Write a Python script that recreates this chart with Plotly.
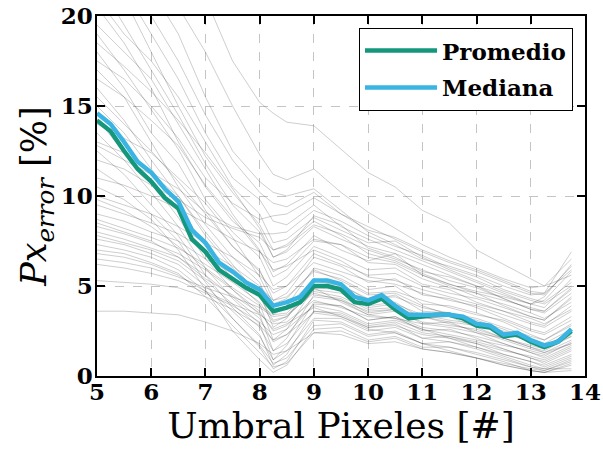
import plotly.graph_objects as go

# Umbral values for the summary curves (0.25 steps)
umbral = [5.0, 5.25, 5.5, 5.75, 6.0, 6.25, 6.5, 6.75, 7.0, 7.25, 7.5, 7.75,
          8.0, 8.25, 8.5, 8.75, 9.0, 9.25, 9.5, 9.75, 10.0, 10.25, 10.5, 10.75,
          11.0, 11.25, 11.5, 11.75, 12.0, 12.25, 12.5, 12.75, 13.0, 13.25, 13.5, 13.75]

promedio = [14.2, 13.6, 12.5, 11.5, 10.8, 9.9, 9.3, 7.6, 6.9, 5.9, 5.4, 4.9,
            4.5, 3.6, 3.8, 4.1, 5.0, 5.0, 4.8, 4.1, 4.0, 4.3, 3.7, 3.2,
            3.3, 3.4, 3.4, 3.2, 2.8, 2.7, 2.2, 2.3, 1.9, 1.6, 1.9, 2.5]

mediana = [14.6, 14.0, 13.0, 11.9, 11.3, 10.4, 9.7, 8.1, 7.4, 6.3, 5.8, 5.2,
           4.8, 3.9, 4.1, 4.4, 5.3, 5.3, 5.1, 4.4, 4.2, 4.5, 3.9, 3.4,
           3.4, 3.4, 3.4, 3.3, 2.9, 2.8, 2.3, 2.4, 2.0, 1.7, 1.9, 2.6]

# Umbral values sampled for the individual error curves
umbral_curvas = [5, 5.5, 6, 6.5, 7, 7.5, 8, 8.25, 8.5, 9, 9.5, 10, 10.5, 11,
                 11.5, 12, 12.5, 13, 13.25, 13.75]

curvas = [
    [34, 31, 28, 25, 21, 17.5, 15.2, 14.6, 14.1, 13.9, 12.6, 11.3, 10.5, 9.2, 8.5, 7.0, 6.2, 5.4, 5.0, 5.6],
    [27, 24, 21.5, 19, 15.5, 12.5, 10.8, 10.2, 10.0, 10.4, 9.2, 8.0, 7.3, 6.5, 6.1, 5.6, 5.0, 4.5, 4.6, 6.9],
    [24, 21.5, 19, 16.5, 13.5, 11.0, 9.8, 8.6, 8.4, 9.5, 8.3, 7.6, 7.0, 6.4, 5.8, 5.2, 4.6, 4.0, 4.2, 5.8],
    [22, 19.5, 17, 14.5, 11.8, 9.5, 8.0, 6.6, 6.9, 8.3, 7.6, 7.0, 6.5, 5.9, 5.3, 4.9, 4.3, 3.7, 3.5, 4.6],
    [20.5, 18.5, 16, 13, 10.5, 8.6, 7.4, 5.8, 6.2, 7.8, 7.0, 6.4, 6.8, 5.6, 5.0, 4.4, 4.0, 3.5, 3.2, 4.1],
    [19, 17, 14.8, 12.6, 9.8, 8.0, 6.6, 5.0, 5.5, 7.2, 6.6, 5.9, 6.0, 5.1, 4.8, 4.1, 3.6, 3.0, 2.8, 3.9],
    [18, 16, 13.5, 11.8, 9.2, 7.2, 5.9, 4.2, 4.6, 6.6, 6.1, 5.2, 5.4, 4.5, 4.3, 3.8, 3.2, 2.6, 2.4, 3.3],
    [17, 15.5, 13, 10.5, 8.4, 6.6, 5.2, 3.4, 3.9, 6.0, 5.6, 4.8, 5.0, 4.0, 3.9, 3.5, 3.0, 2.3, 2.0, 2.8],
    [16, 14.2, 12, 10, 7.8, 6.0, 4.6, 2.7, 3.2, 5.4, 5.1, 4.2, 4.5, 3.6, 3.5, 3.1, 2.6, 2.0, 1.6, 2.5],
    [15, 13.5, 11.5, 9.5, 7.2, 5.4, 4.0, 2.0, 2.6, 4.9, 4.8, 3.9, 4.1, 3.2, 3.3, 2.7, 2.1, 1.6, 1.3, 2.0],
    [14.3, 12.4, 10.8, 8.8, 6.5, 4.8, 3.4, 1.4, 2.1, 4.5, 4.3, 3.5, 3.7, 2.9, 3.0, 2.4, 1.8, 1.3, 1.0, 1.7],
    [13.5, 12.0, 10.2, 8.3, 6.0, 4.3, 2.9, 0.9, 1.7, 4.1, 3.9, 3.1, 3.3, 2.5, 2.6, 2.1, 1.5, 1.0, 0.7, 1.4],
    [12.5, 11.2, 9.5, 7.8, 5.6, 3.8, 2.3, 0.6, 1.2, 3.6, 3.4, 2.7, 2.9, 2.1, 2.2, 1.8, 1.2, 0.8, 0.5, 1.1],
    [11.5, 10.5, 9.0, 7.5, 5.2, 3.2, 1.6, 0.4, 0.8, 3.1, 3.0, 2.3, 2.5, 1.8, 1.9, 1.5, 1.0, 0.5, 0.3, 0.8],
    [10.5, 9.8, 8.7, 7.0, 4.8, 2.5, 0.9, 0.2, 0.6, 2.6, 2.7, 2.0, 2.2, 1.6, 1.6, 1.2, 0.8, 0.3, 0.2, 0.6],
    [10.0, 9.5, 9.0, 8.3, 7.4, 6.6, 5.6, 4.8, 5.0, 6.3, 5.8, 5.3, 5.1, 4.6, 4.2, 3.9, 3.4, 2.9, 2.7, 3.6],
    [9.5, 9.0, 8.5, 7.9, 7.0, 6.1, 5.0, 4.2, 4.4, 5.8, 5.4, 4.6, 4.7, 4.2, 3.8, 3.4, 3.1, 2.5, 2.3, 3.1],
    [9.0, 8.6, 8.0, 7.5, 6.5, 5.7, 4.6, 3.6, 3.9, 5.3, 5.0, 4.3, 4.4, 3.8, 3.5, 3.2, 2.7, 2.2, 2.0, 2.9],
    [8.7, 8.2, 7.7, 7.1, 6.2, 5.2, 4.1, 3.0, 3.3, 4.8, 4.6, 3.8, 4.0, 3.4, 3.1, 2.9, 2.4, 1.9, 1.7, 2.4],
    [8.3, 7.9, 7.4, 6.8, 5.9, 4.8, 3.6, 2.5, 2.8, 4.4, 4.2, 3.4, 3.6, 3.0, 2.8, 2.6, 2.1, 1.6, 1.4, 2.2],
    [8.0, 7.6, 7.1, 6.6, 5.6, 4.4, 3.2, 1.9, 2.3, 4.0, 3.9, 3.1, 3.3, 2.7, 2.5, 2.2, 1.8, 1.3, 1.1, 1.9],
    [7.8, 7.4, 7.0, 6.4, 5.3, 4.0, 2.7, 1.4, 1.8, 3.6, 3.5, 2.8, 3.0, 2.4, 2.2, 1.9, 1.5, 1.0, 0.8, 1.5],
    [7.6, 7.3, 6.8, 6.2, 5.0, 3.6, 2.2, 0.9, 1.4, 3.2, 3.2, 2.5, 2.7, 2.1, 1.9, 1.6, 1.2, 0.8, 0.6, 1.2],
    [7.3, 7.0, 6.6, 5.9, 4.7, 3.2, 1.7, 0.7, 1.0, 2.8, 2.9, 2.2, 2.4, 1.8, 1.6, 1.3, 0.9, 0.5, 0.4, 1.0],
    [7.0, 6.8, 6.3, 5.7, 4.4, 2.8, 1.3, 0.5, 0.7, 2.4, 2.5, 1.9, 2.1, 1.5, 1.3, 1.0, 0.6, 0.3, 0.2, 0.7],
    [6.8, 6.6, 6.2, 5.6, 4.7, 4.0, 3.4, 2.9, 3.0, 4.2, 3.8, 3.3, 3.2, 2.9, 2.7, 2.4, 2.1, 1.7, 1.5, 2.3],
    [6.5, 6.3, 6.0, 5.5, 4.9, 4.4, 3.8, 3.3, 3.4, 4.6, 4.2, 3.6, 3.7, 3.3, 3.0, 2.8, 2.5, 2.0, 1.8, 2.6],
    [6.2, 6.0, 5.7, 5.3, 4.6, 3.9, 3.0, 2.3, 2.6, 3.9, 3.6, 2.9, 3.1, 2.6, 2.3, 2.0, 1.7, 1.4, 1.2, 1.8],
    [5.3, 5.2, 5.1, 4.9, 4.4, 3.7, 2.8, 2.0, 2.3, 3.5, 3.3, 2.7, 2.8, 2.3, 2.1, 1.8, 1.4, 1.1, 0.9, 1.6],
    [3.6, 3.6, 3.5, 3.4, 3.0, 2.5, 1.8, 1.2, 1.4, 2.4, 2.3, 1.8, 1.9, 1.5, 1.3, 1.0, 0.7, 0.4, 0.3, 0.9],
    [12.0, 11.5, 10.6, 9.8, 8.8, 8.2, 7.7, 7.0, 7.2, 8.4, 7.9, 7.2, 6.8, 6.2, 5.6, 5.0, 4.3, 3.7, 3.6, 4.8],
    [11.0, 10.6, 10.0, 9.3, 8.5, 7.6, 6.9, 6.3, 6.5, 7.6, 7.3, 6.6, 6.3, 5.6, 5.1, 4.6, 3.9, 3.3, 3.1, 4.3],
    [13.0, 12.4, 11.3, 10.4, 9.1, 8.3, 7.9, 7.9, 8.0, 9.2, 8.6, 7.8, 7.2, 6.7, 6.0, 5.5, 4.8, 4.3, 4.1, 5.2],
    [17.5, 16.5, 15.0, 13.2, 11.0, 9.6, 8.7, 8.9, 9.0, 9.9, 9.0, 8.3, 7.6, 6.9, 6.3, 5.8, 5.2, 4.6, 4.5, 6.1],
    [21, 19, 17.5, 15.5, 13.0, 10.5, 9.0, 7.4, 7.6, 8.8, 8.1, 7.4, 7.5, 6.6, 5.9, 5.3, 4.7, 4.2, 4.0, 5.0],
    [9.8, 9.2, 8.3, 7.2, 6.0, 4.9, 3.9, 3.4, 3.5, 4.9, 4.1, 3.4, 3.2, 2.6, 2.1, 1.6, 1.1, 0.6, 0.4, 0.4],
    [8.5, 8.0, 7.5, 6.6, 5.4, 4.5, 3.5, 2.6, 2.9, 3.8, 3.3, 2.6, 2.4, 1.8, 1.4, 1.0, 0.6, 0.3, 0.2, 0.3],
    [15.5, 14.0, 12.5, 10.8, 9.0, 7.2, 5.8, 4.6, 5.0, 6.8, 6.2, 5.6, 5.7, 5.0, 4.6, 4.3, 3.8, 3.3, 3.1, 4.4],
    [19.5, 18, 16.5, 14, 11.5, 9.0, 7.0, 5.5, 5.9, 7.5, 7.3, 6.3, 6.2, 5.4, 4.9, 4.6, 4.2, 3.8, 3.6, 4.9],
    [23, 21, 18, 15, 12.2, 10.2, 8.4, 7.0, 7.3, 8.6, 7.8, 6.8, 6.4, 5.7, 5.1, 4.7, 4.4, 4.0, 4.4, 6.2],
    [25, 22.5, 20, 17.5, 14.5, 12.0, 10.2, 9.6, 9.4, 10.2, 9.0, 8.1, 7.7, 7.0, 6.4, 5.9, 5.3, 4.7, 4.6, 5.9],
    [18.5, 17.2, 15.8, 14.2, 12.4, 10.4, 8.2, 6.6, 7.0, 8.9, 8.4, 7.1, 6.6, 5.8, 5.5, 5.0, 4.5, 4.0, 3.8, 5.4],
    [16.5, 15.5, 14.2, 12.8, 10.6, 8.8, 6.9, 5.9, 6.1, 7.0, 6.4, 5.5, 5.3, 4.8, 4.4, 4.0, 3.6, 3.2, 2.9, 3.7],
    [14.0, 13.2, 12.4, 11.0, 9.6, 7.7, 5.5, 4.0, 4.3, 5.9, 5.3, 4.5, 4.6, 3.9, 3.4, 2.9, 2.4, 1.9, 1.6, 2.2],
    [12.8, 12.0, 11.2, 10.0, 8.0, 6.2, 4.4, 3.1, 3.3, 4.7, 4.4, 3.7, 3.8, 3.3, 2.9, 2.5, 2.0, 1.5, 1.3, 1.8],
    [28, 26, 23, 20.5, 18, 15, 12.3, 11.2, 10.9, 11.5, 10.2, 9.1, 8.2, 7.3, 6.6, 6.0, 5.4, 4.9, 5.0, 6.5],
]

x_ticks = [5, 6, 7, 8, 9, 10, 11, 12, 13, 14]
y_ticks = [0, 5, 10, 15, 20]

SERIF = "DejaVu Serif"

fig = go.Figure()

for valores in curvas:
    fig.add_trace(go.Scatter(
        x=umbral_curvas, y=valores, mode="lines",
        line=dict(color="rgba(30,30,30,0.28)", width=0.8),
        showlegend=False, hoverinfo="skip",
    ))

fig.add_trace(go.Scatter(
    x=umbral, y=promedio, mode="lines", name="Promedio",
    line=dict(color="#15977c", width=4.5), legendgroup="a",
))
fig.add_trace(go.Scatter(
    x=umbral, y=mediana, mode="lines", name="Mediana",
    line=dict(color="#3ab4e2", width=4.5), legendgroup="b",
))

axis_common = dict(
    showline=True, linecolor="black", linewidth=1.5, mirror="ticks",
    ticks="inside", ticklen=8, tickwidth=2, tickcolor="black",
    showgrid=True, gridcolor="#c4c4c4", griddash="dash", gridwidth=1,
    zeroline=False, automargin=False,
    tickfont=dict(family=SERIF, size=23, color="black", weight="bold"),
)

fig.update_xaxes(
    range=[5, 14], tickvals=x_ticks, ticktext=[str(v) for v in x_ticks],
    ticklabelstandoff=-5,
    title=dict(text="Umbral Pixeles [#]", font=dict(family=SERIF, size=36, color="black"),
               standoff=0),
    **axis_common,
)
fig.update_yaxes(
    range=[0, 20], tickvals=y_ticks, ticktext=[str(v) for v in y_ticks],
    ticklabelstandoff=-2,
    title=dict(text="<i>Px</i><sub><i>error</i></sub> [%]",
               font=dict(family=SERIF, size=35, color="black"), standoff=3),
    **axis_common,
)

fig.update_layout(
    width=603, height=449,
    margin=dict(l=97, r=18, t=16, b=73),
    paper_bgcolor="white", plot_bgcolor="white",
    showlegend=True,
    legend=dict(
        x=0.975, y=0.967, xanchor="right", yanchor="top",
        bgcolor="white", bordercolor="black", borderwidth=1.2,
        font=dict(family=SERIF, size=23, color="black", weight="bold"),
        traceorder="grouped", tracegroupgap=4,
        itemwidth=72,
    ),
)

fig.write_html("out.html")
